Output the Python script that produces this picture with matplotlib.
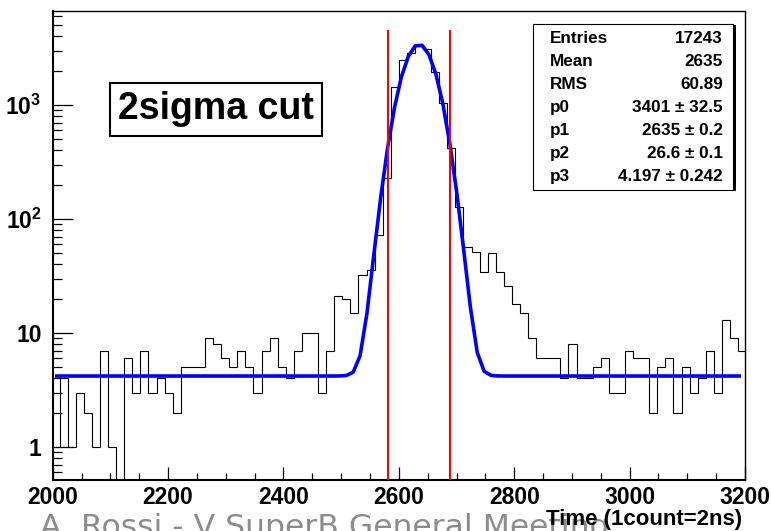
import numpy as np
import matplotlib
matplotlib.use('Agg')
import matplotlib.pyplot as plt
from matplotlib.ticker import FixedLocator, FixedFormatter, MultipleLocator, NullFormatter
from matplotlib.patches import Rectangle

# histogram contents (bin width 14 counts, first bin starts at 1998)
counts = [1, 4, 1, 3, 2, 1, 7, 1, 0, 6,
          3, 7, 3, 4, 3, 2, 5, 5, 5, 9,
          8, 6, 5, 7, 5, 3, 7, 9, 5, 4,
          7, 10, 10, 3, 7, 21, 20, 15, 32, 36,
          72, 230, 1430, 2480, 2840, 3300, 3080, 1936, 1048, 422,
          127, 57, 51, 34, 50, 34, 26, 18, 15, 9,
          6, 6, 6, 4, 8, 4, 4, 5, 6, 3,
          3, 7, 6, 6, 2, 5, 6, 2, 5, 3,
          4, 7, 3, 13, 9, 7]
bin_lo = 1998
bin_w = 14

# fit: gaus(p0, p1, p2) + p3
fit_par = [3401, 2635, 26.6, 4.197]
fit_range = [2007, 3190]
n_sigma = 2

stat_names = ['Entries', 'Mean', 'RMS', 'p0', 'p1', 'p2', 'p3']
stat_vals = ['17243', '2635', '60.89', '3401 \u00b1 32.5', '2635 \u00b1 0.2',
             '26.6 \u00b1 0.1', '4.197 \u00b1 0.242']

x_ticks = [2000, 2200, 2400, 2600, 2800, 3000, 3200]
y_ticks = [1, 10, 100, 1000]
y_ticklabels = ['1', '10', r'$\mathbf{10^{2}}$', r'$\mathbf{10^{3}}$']

W, H = 771, 531
plt.rcParams['font.family'] = 'Liberation Sans'
plt.rcParams['font.weight'] = 'bold'
plt.rcParams['mathtext.fontset'] = 'custom'
plt.rcParams['mathtext.bf'] = 'Liberation Sans:bold'
plt.rcParams['mathtext.rm'] = 'Liberation Sans:bold'


def fx(x):
    return x / W


def fy(y):
    return 1 - y / H


fig = plt.figure(figsize=(W / 100, H / 100), dpi=100)
ax = fig.add_axes([fx(52.7), fy(480), fx(745) - fx(52.7), fy(10.7) - fy(480)])

edges = bin_lo + bin_w * np.arange(len(counts) + 1)
ax.stairs(counts, edges, baseline=None, color='black', lw=0.8, zorder=2)

xf = np.linspace(fit_range[0], fit_range[1], 100)
p0, p1, p2, p3 = fit_par
yf = p0 * np.exp(-0.5 * ((xf - p1) / p2) ** 2) + p3
ax.plot(xf, yf, color='#0000ff', lw=2.6, zorder=3)

for xc in [p1 - n_sigma * p2, p1 + n_sigma * p2]:
    ax.plot([xc, xc], [0.3, 4500], color='#ff0000', lw=1.5, zorder=4)

ax.set_yscale('log')
ax.set_xlim(2000, 3200)
ax.set_ylim(0.514, 6714)

ax.xaxis.set_major_locator(FixedLocator(x_ticks))
ax.xaxis.set_minor_locator(MultipleLocator(50))
ax.yaxis.set_major_locator(FixedLocator(y_ticks))
ax.yaxis.set_major_formatter(FixedFormatter(y_ticklabels))
minors = [m * 10.0 ** d for d in range(-1, 4) for m in range(2, 10)]
ax.yaxis.set_minor_locator(FixedLocator(minors))
ax.yaxis.set_minor_formatter(NullFormatter())

ax.tick_params(axis='x', which='major', direction='in', length=9.4, width=0.9,
               labelsize=16.5, pad=4, top=False)
ax.tick_params(axis='x', which='minor', direction='in', length=5, width=0.9, top=False)
ax.tick_params(axis='y', which='major', direction='in', length=14.4, width=0.9,
               labelsize=16.5, pad=8, right=False)
ax.tick_params(axis='y', which='minor', direction='in', length=6.5, width=0.9, right=False)
for s in ['left', 'bottom']:
    ax.spines[s].set_linewidth(1.5)
for s in ['top', 'right']:
    ax.spines[s].set_linewidth(1.0)

# "2sigma cut" label box
ax.text(0.236, 0.79, '2sigma cut', transform=ax.transAxes, fontsize=27,
        fontweight='bold', ha='center', va='center',
        bbox=dict(boxstyle='square,pad=0.22', fc='white', ec='black', lw=1.5))

# stats box
fig.patches.append(Rectangle((fx(535.5), fy(191)), fx(734) - fx(533.3), fy(24) - fy(190),
                             transform=fig.transFigure, fc='black', ec='none', zorder=5))
fig.patches.append(Rectangle((fx(533.3), fy(190)), fx(732.5) - fx(533.3), fy(24) - fy(190),
                             transform=fig.transFigure, fc='white', ec='black', lw=0.8, zorder=6))
for i, (nm, vl) in enumerate(zip(stat_names, stat_vals)):
    yy = fy(38.3 + 23.1 * i)
    fig.text(fx(550), yy, nm, fontsize=12.3, fontweight='bold', ha='left', va='center', zorder=7)
    fig.text(fx(723), yy, vl, fontsize=12.3, fontweight='bold', ha='right', va='center', zorder=7)

# footer text from the slide, cut at the bottom edge as in the source
fig.text(fx(40), fy(513), 'A. Rossi - V SuperB General Meeting', fontsize=22.6,
         fontweight='normal', family='DejaVu Sans', color='#8c8c8c', ha='left', va='top')
fig.text(fx(742), fy(519), 'Time (1count=2ns)', fontsize=16, fontweight='bold',
         ha='right', va='center')

fig.savefig('out.png', dpi=100)
